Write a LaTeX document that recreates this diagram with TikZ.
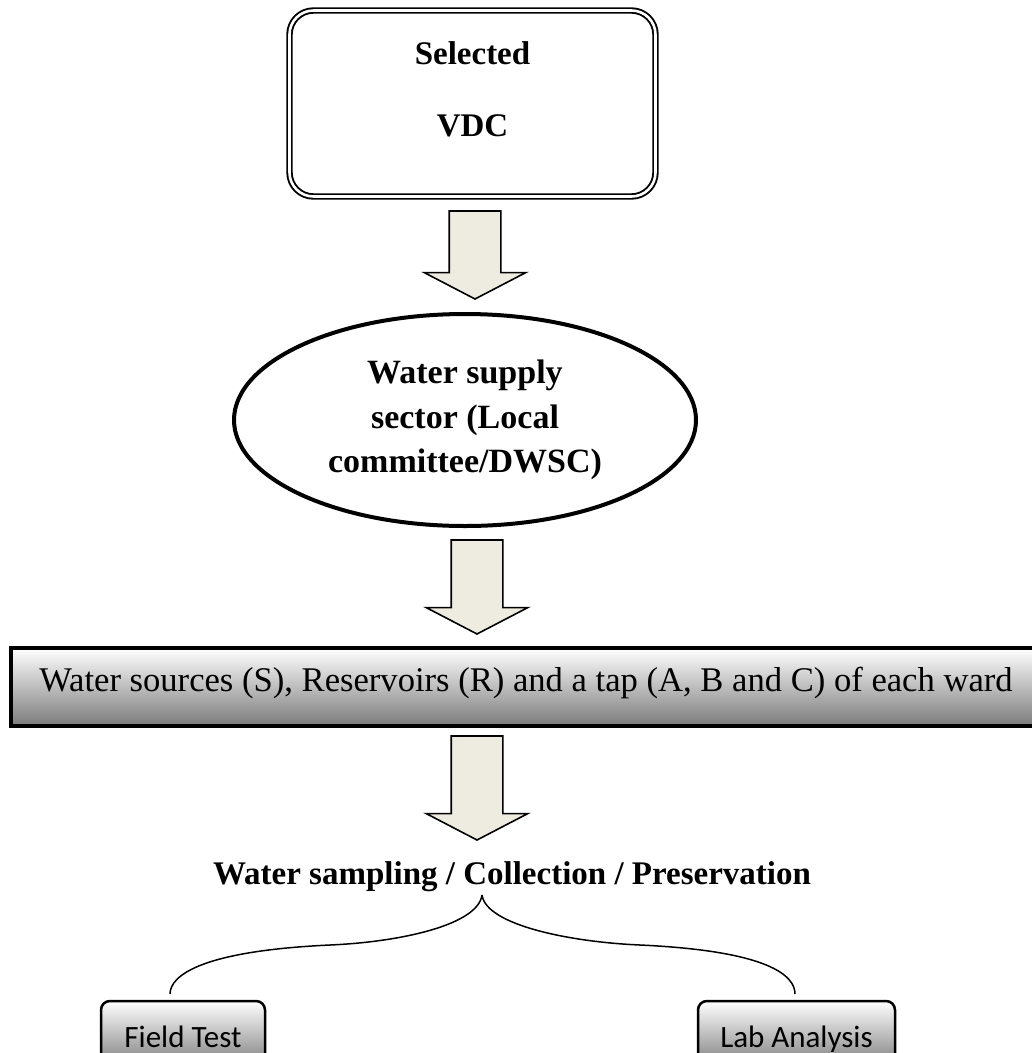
\documentclass[tikz,border=0pt]{standalone}
\usepackage{fontspec}
\setmainfont{Liberation Serif}
\newfontfamily\boxfont{Carlito}
\usetikzlibrary{shapes.geometric,shapes.arrows}
\definecolor{beige}{RGB}{238,236,225}

\begin{document}
\begin{tikzpicture}[x=1pt,y=1pt]
\tikzstyle{every node}=[inner sep=0pt, outer sep=0pt]
\tikzstyle{selbox}=[draw, line width=1.9pt, double, double distance=2.6pt, rounded corners=24pt, minimum width=366pt, minimum height=186pt]
\tikzstyle{headtext}=[font=\bfseries\fontsize{33}{40}\selectfont, align=center]
\tikzstyle{bigarrow}=[single arrow, draw, line width=1.6pt, fill=beige, shape border rotate=270, inner sep=25pt, minimum width=0pt, single arrow head extend=25pt, single arrow tip angle=125, single arrow head indent=0pt, anchor=tail]
\tikzstyle{ellbox}=[ellipse, draw, line width=4pt, minimum width=462pt, minimum height=212pt, font=\bfseries\fontsize{34}{44.5}\selectfont, align=center]
\tikzstyle{barbox}=[draw, line width=4pt, top color=white, middle color=black!18, bottom color=black!52, minimum width=1030pt, minimum height=78pt, text height=20pt, text depth=12pt, font=\fontsize{34.6}{40}\selectfont]
\tikzstyle{testbox}=[draw, line width=2.5pt, rounded corners=9pt, top color=white, middle color=black!15, bottom color=black!55, minimum height=71pt, text height=21pt, text depth=0pt, font=\boxfont\fontsize{31}{36}\selectfont]
\tikzstyle{brace}=[line width=1.5pt, shorten >=7pt]

\useasboundingbox (0,0) rectangle (1032,-1053);
\clip (0,0) rectangle (1032,-1053);

% boxes and texts
\draw (472.5,-103.5) node (sel) [selbox] {};
\draw (472.5,-42) node (seltxt) [headtext, anchor=north] {Selected\\[32pt]VDC};
\draw (465,-420) node (ell) [ellbox] {Water supply\\sector (Local\\committee/DWSC)};
\draw (526,-687) node (bar) [barbox] {Water sources (S), Reservoirs (R) and a tap (A, B and C) of each ward};
\draw (512,-884) node (wsc) [headtext, anchor=base] {Water sampling / Collection / Preservation};
\draw (183,-1036.5) node (fld) [testbox, minimum width=164pt] {Field Test};
\draw (796.5,-1036.5) node (lab) [testbox, minimum width=197pt] {Lab Analysis};

% block arrows
\draw (475,-211) node (a1) [bigarrow, minimum height=88pt] {};
\draw (477,-540) node (a2) [bigarrow, minimum height=94pt] {};
\draw (477,-736) node (a3) [bigarrow, minimum height=104pt] {};

% brace
\coordinate (cusp) at (482,-895);
\draw[brace] (cusp) .. controls +(-4,-30) and +(70,3) .. (330,-945) .. controls +(-130,-6) and +(0,25) .. ([xshift=-13pt]fld.north);
\draw[brace] (cusp) .. controls +(4,-30) and +(-70,3) .. (640,-945) .. controls +(130,-6) and +(0,25) .. ([xshift=-1.5pt]lab.north);
\end{tikzpicture}
\end{document}
